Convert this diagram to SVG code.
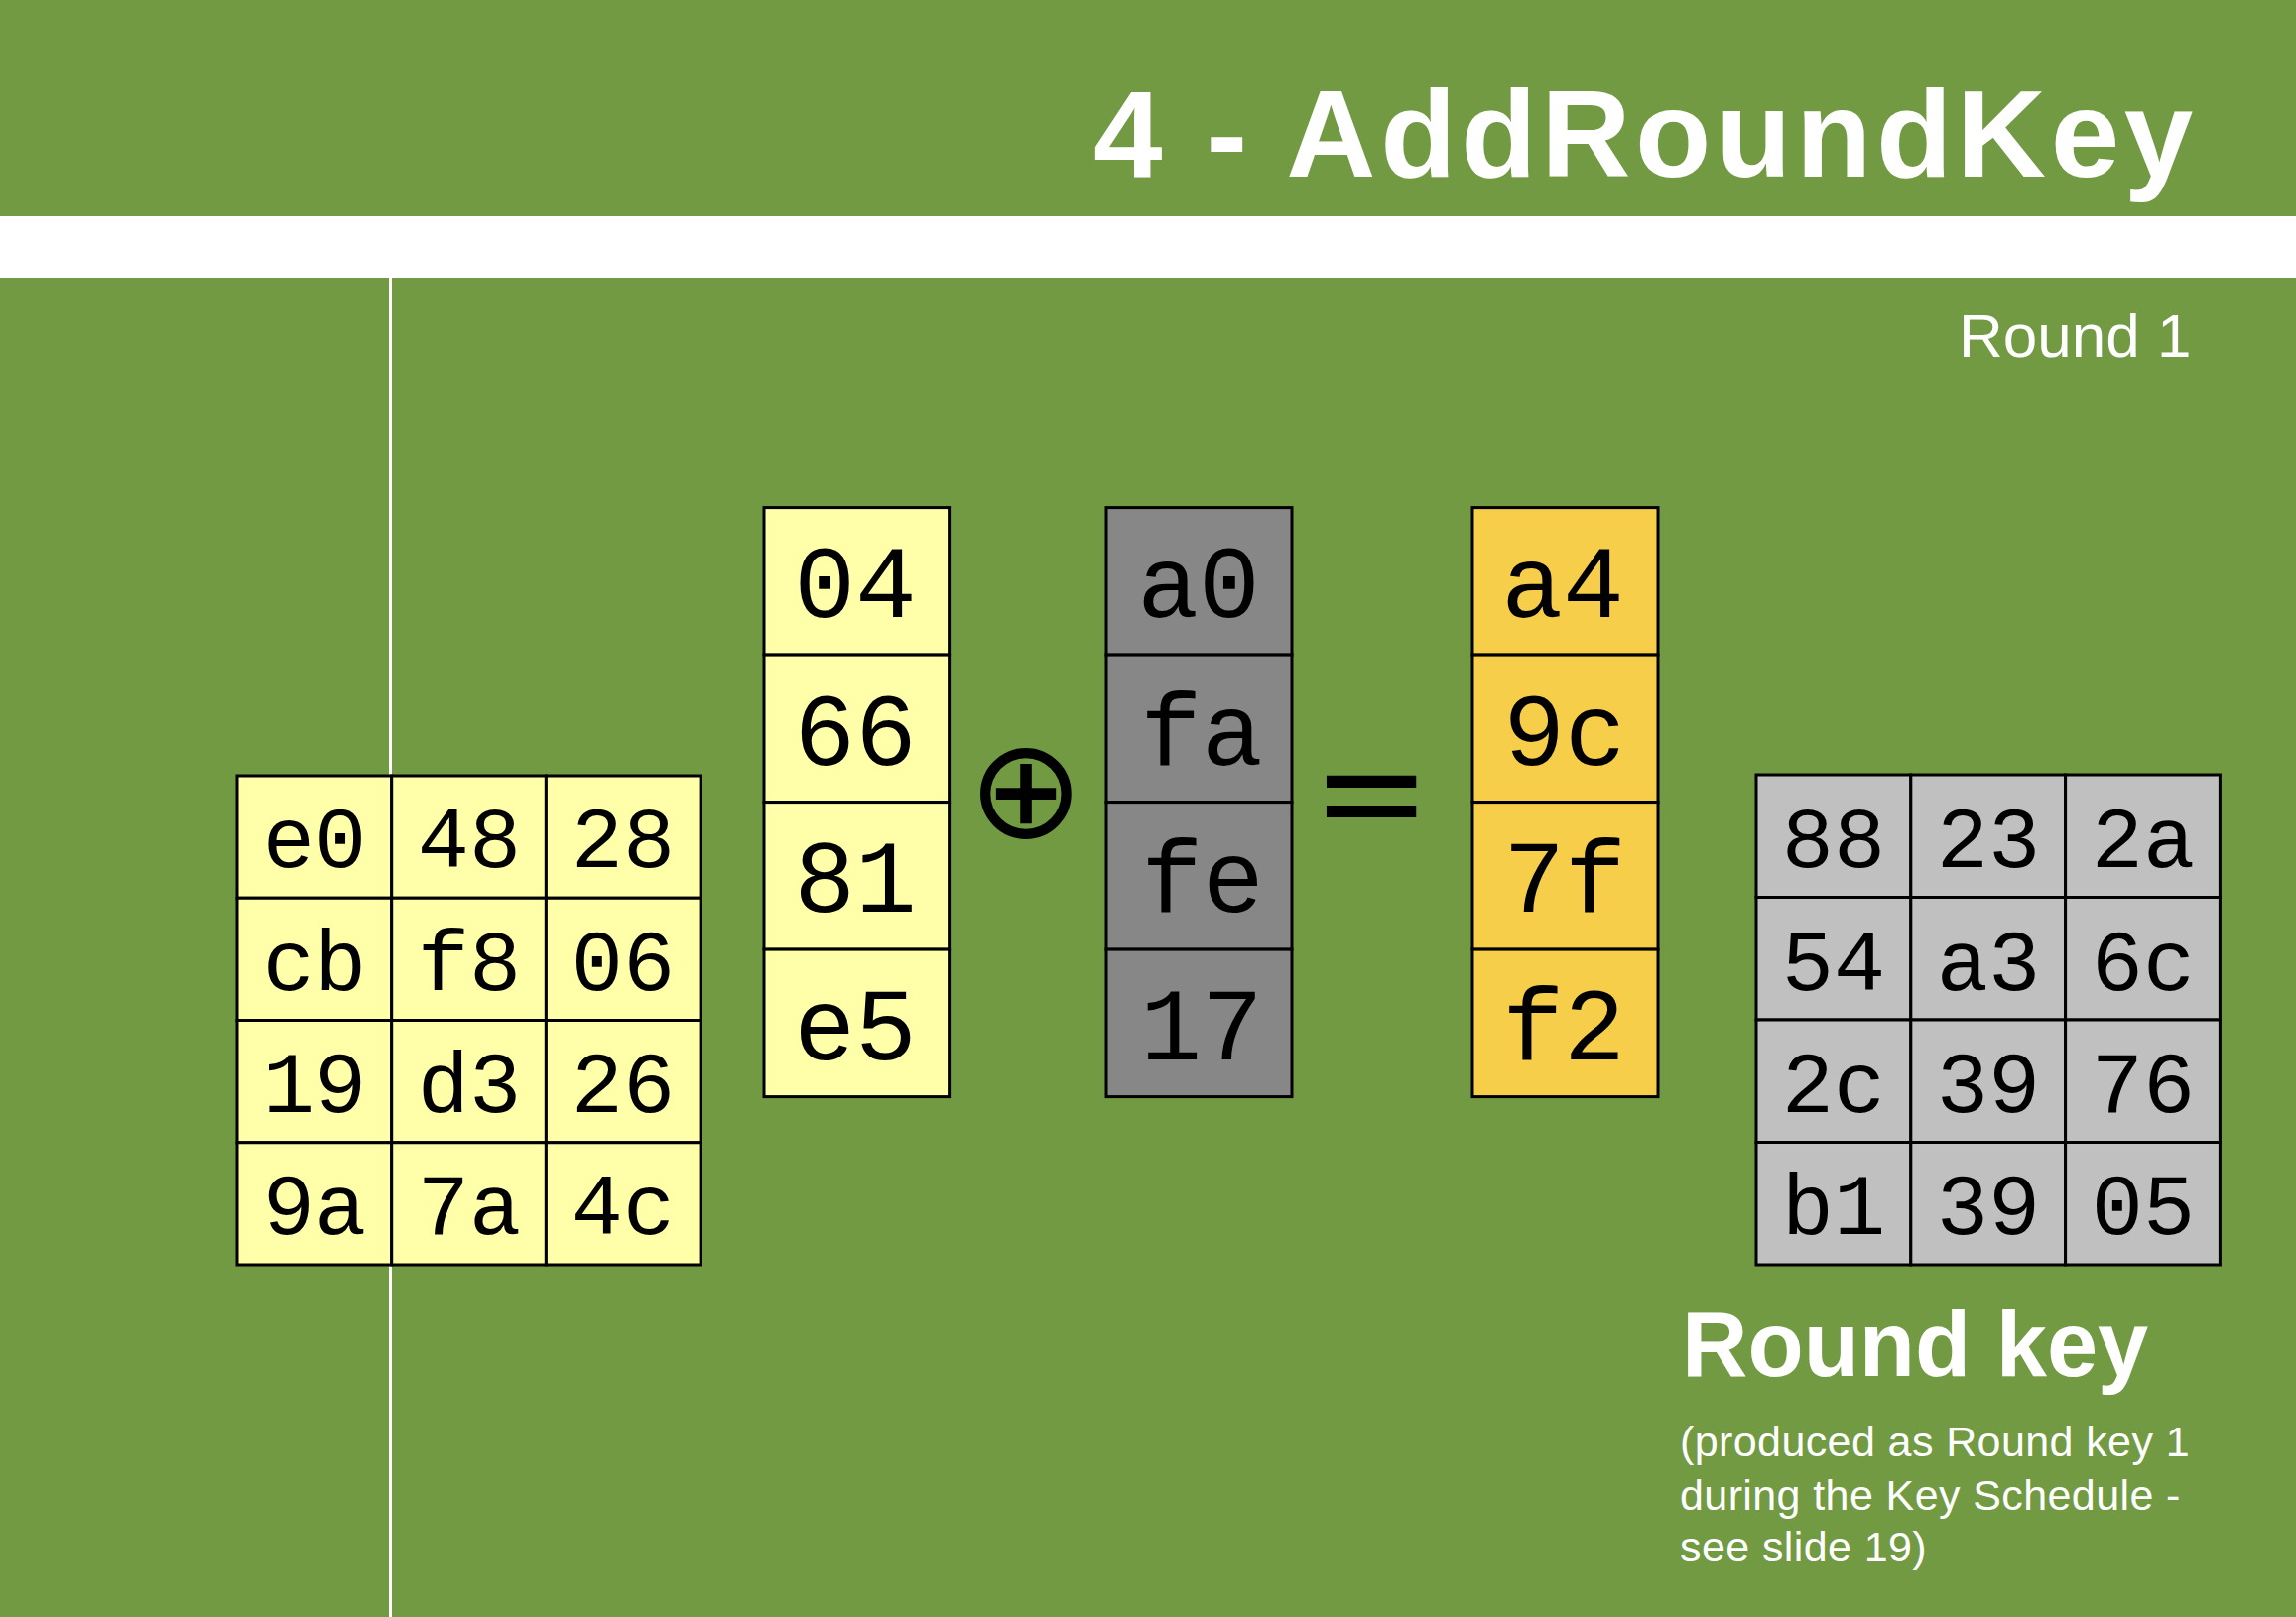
<svg xmlns="http://www.w3.org/2000/svg" width="2314" height="1630" viewBox="0 0 2314 1630">
  <defs>
    <style>
      .bg { fill: #729a43; }
      .band { fill: #ffffff; }
      .title { font-family: "Liberation Sans", Arial, Helvetica, sans-serif; font-weight: bold; fill: #ffffff; }
      .label { font-family: "Liberation Sans", Arial, Helvetica, sans-serif; fill: #ffffff; }
      .cell { stroke: #000000; stroke-width: 3; }
      .yel { fill: #ffffaa; }
      .dgray { fill: #878787; }
      .orange { fill: #f7ce4a; }
      .lgray { fill: #c0c0c0; }
      .hex { font-family: "Liberation Mono", "Courier New", monospace; fill: #000000; text-anchor: middle; }
      .hexs { font-size: 87px; }
      .hexl { font-size: 103px; }
      .op { fill: #000000; text-anchor: middle; }
    </style>
  </defs>

  <!-- background -->
  <rect class="bg" x="0" y="0" width="2314" height="1630"/>
  <rect class="band" x="0" y="218" width="2314" height="62"/>
  <rect class="band" x="392" y="280" width="3" height="1350"/>

  <!-- titles -->
  <text class="title" x="1102" y="178" font-size="125" letter-spacing="4.6">4 - AddRoundKey</text>
  <text class="label" x="1974" y="360" font-size="62">Round 1</text>

  <!-- State matrix (left) -->
  <g id="state-matrix">
    <g class="cell yel">
      <rect x="239" y="782" width="155.7" height="123.25"/>
      <rect x="394.7" y="782" width="155.7" height="123.25"/>
      <rect x="550.4" y="782" width="155.7" height="123.25"/>
      <rect x="239" y="905.25" width="155.7" height="123.25"/>
      <rect x="394.7" y="905.25" width="155.7" height="123.25"/>
      <rect x="550.4" y="905.25" width="155.7" height="123.25"/>
      <rect x="239" y="1028.5" width="155.7" height="123.25"/>
      <rect x="394.7" y="1028.5" width="155.7" height="123.25"/>
      <rect x="550.4" y="1028.5" width="155.7" height="123.25"/>
      <rect x="239" y="1151.75" width="155.7" height="123.25"/>
      <rect x="394.7" y="1151.75" width="155.7" height="123.25"/>
      <rect x="550.4" y="1151.75" width="155.7" height="123.25"/>
    </g>
    <g class="hex hexs">
      <text x="317" y="874">e0</text>
      <text x="473" y="874">48</text>
      <text x="628" y="874">28</text>
      <text x="317" y="998">cb</text>
      <text x="473" y="998">f8</text>
      <text x="628" y="998">06</text>
      <text x="317" y="1121">19</text>
      <text x="473" y="1121">d3</text>
      <text x="628" y="1121">26</text>
      <text x="317" y="1244">9a</text>
      <text x="473" y="1244">7a</text>
      <text x="628" y="1244">4c</text>
    </g>
  </g>

  <!-- State column -->
  <g id="state-column">
    <g class="cell yel">
      <rect x="770" y="511.6" width="186.6" height="148.5"/>
      <rect x="770" y="660.1" width="186.6" height="148.5"/>
      <rect x="770" y="808.6" width="186.6" height="148.5"/>
      <rect x="770" y="957.1" width="186.6" height="148.5"/>
    </g>
    <g class="hex hexl">
      <text x="862" y="622">04</text>
      <text x="862" y="771">66</text>
      <text x="862" y="919">81</text>
      <text x="862" y="1068">e5</text>
    </g>
  </g>

  <!-- XOR operator -->
  <g id="xor-operator">
    <text class="op" x="1034" y="844" font-family="DejaVu Sans, sans-serif" font-size="140">⊕</text>
  </g>

  <!-- Round key column -->
  <g id="round-key-column">
    <g class="cell dgray">
      <rect x="1115" y="511.6" width="187" height="148.5"/>
      <rect x="1115" y="660.1" width="187" height="148.5"/>
      <rect x="1115" y="808.6" width="187" height="148.5"/>
      <rect x="1115" y="957.1" width="187" height="148.5"/>
    </g>
    <g class="hex hexl">
      <text x="1208" y="622">a0</text>
      <text x="1211" y="771">fa</text>
      <text x="1212" y="919">fe</text>
      <text x="1211" y="1068">17</text>
    </g>
  </g>

  <!-- Equals operator -->
  <g id="equals-operator">
    <text class="op" x="1382" y="0" font-family="Liberation Sans, Arial, sans-serif" font-weight="bold" font-size="180" transform="translate(0,840) scale(1,0.62)">=</text>
  </g>

  <!-- Result column -->
  <g id="result-column">
    <g class="cell orange">
      <rect x="1484" y="511.6" width="187" height="148.5"/>
      <rect x="1484" y="660.1" width="187" height="148.5"/>
      <rect x="1484" y="808.6" width="187" height="148.5"/>
      <rect x="1484" y="957.1" width="187" height="148.5"/>
    </g>
    <g class="hex hexl">
      <text x="1575" y="622">a4</text>
      <text x="1577" y="771">9c</text>
      <text x="1577" y="919">7f</text>
      <text x="1576" y="1068">f2</text>
    </g>
  </g>

  <!-- Round key matrix (right) -->
  <g id="round-key-matrix">
    <g class="cell lgray">
      <rect x="1770" y="781" width="155.8" height="123.5"/>
      <rect x="1925.8" y="781" width="155.8" height="123.5"/>
      <rect x="2081.6" y="781" width="155.8" height="123.5"/>
      <rect x="1770" y="904.5" width="155.8" height="123.5"/>
      <rect x="1925.8" y="904.5" width="155.8" height="123.5"/>
      <rect x="2081.6" y="904.5" width="155.8" height="123.5"/>
      <rect x="1770" y="1028" width="155.8" height="123.5"/>
      <rect x="1925.8" y="1028" width="155.8" height="123.5"/>
      <rect x="2081.6" y="1028" width="155.8" height="123.5"/>
      <rect x="1770" y="1151.5" width="155.8" height="123.5"/>
      <rect x="1925.8" y="1151.5" width="155.8" height="123.5"/>
      <rect x="2081.6" y="1151.5" width="155.8" height="123.5"/>
    </g>
    <g class="hex hexs">
      <text x="1848" y="874">88</text>
      <text x="2004" y="874">23</text>
      <text x="2160" y="874">2a</text>
      <text x="1848" y="998">54</text>
      <text x="2004" y="998">a3</text>
      <text x="2160" y="998">6c</text>
      <text x="1848" y="1121">2c</text>
      <text x="2004" y="1121">39</text>
      <text x="2160" y="1121">76</text>
      <text x="1848" y="1244">b1</text>
      <text x="2004" y="1244">39</text>
      <text x="2160" y="1244">05</text>
    </g>
  </g>

  <!-- Round key caption -->
  <g id="round-key-caption">
    <text class="title" x="1695" y="1387" font-size="92">Round key</text>
    <g class="label" font-size="43" letter-spacing="0.4">
      <text x="1693" y="1468">(produced as Round key 1</text>
      <text x="1693" y="1521.5">during the Key Schedule -</text>
      <text x="1693" y="1574">see slide 19)</text>
    </g>
  </g>

  <g id="connectors"/>
</svg>
